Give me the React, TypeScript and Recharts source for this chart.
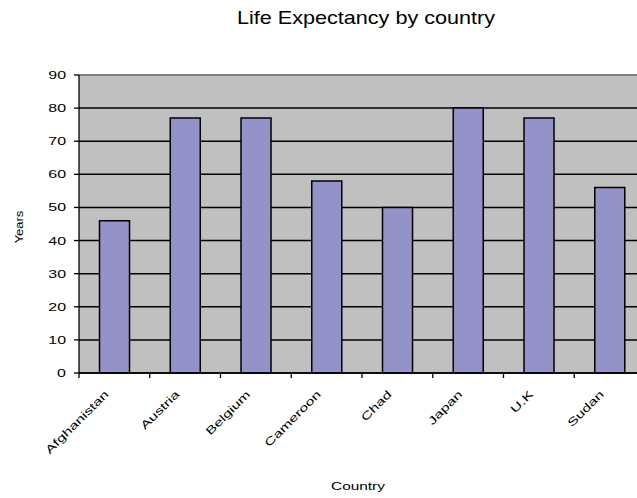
import { BarChart, Bar, XAxis, YAxis, CartesianGrid, ReferenceLine } from "recharts";

// life expectancy in years, one entry per country
const countries = ["Afghanistan", "Austria", "Belgium", "Cameroon", "Chad", "Japan", "U.K", "Sudan"];
const years = [46, 77, 77, 58, 50, 80, 77, 56];
const yTicks = [0, 10, 20, 30, 40, 50, 60, 70, 80, 90];

const data = countries.map((country, i) => ({ country, years: years[i] }));

const FONT = "Arial, 'Liberation Sans', sans-serif";

// y tick: text stretched wide like the old spreadsheet font
const YTick = ({ x, y, payload }: any) => (
  <g transform={`translate(${x},${y})`}>
    <text transform="scale(1.45,1)" textAnchor="end" dy={4} fontSize={11} fontFamily={FONT} fill="#000">
      {payload.value}
    </text>
  </g>
);

// x tick: boundary tick mark on the left edge of the band plus a slanted label
const XTick = ({ x, y, payload }: any) => {
  const left = x - (payload.offset || 0);
  return (
    <g>
      <line x1={left} x2={left} y1={y - 5} y2={y} stroke="#000" strokeWidth={1.3} />
      <g transform={`translate(${x - 5},${y + 17}) rotate(-45) scale(1.45,1)`}>
        <text textAnchor="end" fontSize={11} fontFamily={FONT} fill="#000">
          {payload.value}
        </text>
      </g>
    </g>
  );
};

export default function App() {
  return (
    <div style={{ position: "fixed", left: 0, top: 0, width: 637, height: 498, overflow: "hidden", background: "#fff" }}>
      <div style={{ position: "absolute", left: 0, top: 0 }}>
        <BarChart
          width={660}
          height={498}
          data={data}
          margin={{ top: 75, right: 15, left: 0, bottom: 0 }}
          barCategoryGap="29%"
        >
          <CartesianGrid vertical={false} fill="#c0c0c0" stroke="#000" strokeWidth={1.5} />
          <ReferenceLine y={90} stroke="#9a9a9a" strokeWidth={1.5} />
          <XAxis
            dataKey="country"
            interval={0}
            height={125}
            tickSize={5}
            tickMargin={0}
            tickLine={false}
            axisLine={{ stroke: "#000", strokeWidth: 1.3 }}
            tick={<XTick />}
          />
          <YAxis
            type="number"
            domain={[0, 90]}
            ticks={yTicks}
            interval={0}
            width={79}
            tickSize={5}
            tickMargin={8}
            tickLine={{ stroke: "#000", strokeWidth: 1.3 }}
            axisLine={{ stroke: "#000", strokeWidth: 1.3 }}
            tick={<YTick />}
          />
          <Bar dataKey="years" fill="#9393c9" stroke="#000" strokeWidth={1.5} isAnimationActive={false} />
        </BarChart>
      </div>
      {/* title and axis titles, in the same wide lettering */}
      <svg width={637} height={498} style={{ position: "absolute", left: 0, top: 0, pointerEvents: "none" }}>
        <g transform="translate(366,24) scale(1.2,1)">
          <text textAnchor="middle" fontSize={18} fontFamily={FONT} fill="#000">
            Life Expectancy by country
          </text>
        </g>
        <g transform="translate(358,490) scale(1.4,1)">
          <text textAnchor="middle" fontSize={11} fontFamily={FONT} fill="#000">
            Country
          </text>
        </g>
        <g transform="translate(23,227) rotate(-90) scale(1.3,1)">
          <text textAnchor="middle" fontSize={10} fontFamily={FONT} fill="#000">
            Years
          </text>
        </g>
      </svg>
    </div>
  );
}
